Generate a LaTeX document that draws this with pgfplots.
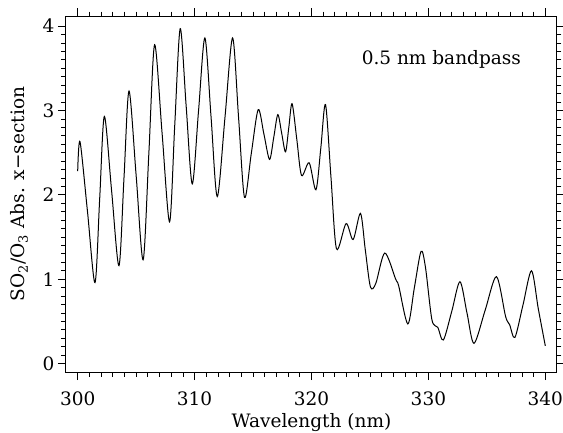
\documentclass[border=0pt]{standalone}
\usepackage{fontspec}
\setmainfont{DejaVu Serif}
\usepackage{pgfplots}
\pgfplotsset{compat=1.18}

\pgfplotstableread{
x y
300.00 2.28
300.20 2.63
300.84 1.80
301.48 0.96
301.88 1.95
302.28 2.93
302.90 2.05
303.53 1.16
303.96 2.20
304.39 3.23
305.00 2.23
305.60 1.23
306.09 2.50
306.58 3.78
307.22 2.73
307.86 1.68
308.30 2.82
308.77 3.97
309.28 3.05
309.80 2.13
310.34 3.00
310.88 3.86
311.41 2.92
311.94 1.98
312.60 2.92
313.25 3.86
313.76 2.92
314.27 1.97
314.85 2.49
315.44 3.01
315.93 2.72
316.41 2.42
316.77 2.68
317.12 2.95
317.45 2.73
317.78 2.51
318.06 2.80
318.34 3.08
318.75 2.65
319.15 2.23
319.80 2.38
320.38 2.06
320.80 2.56
321.20 3.07
321.67 2.20
322.14 1.36
322.96 1.66
323.56 1.47
324.19 1.78
324.60 1.35
325.04 0.91
325.50 0.95
326.27 1.31
327.20 1.00
327.46 0.92
328.24 0.47
328.80 0.90
329.37 1.33
329.75 1.14
330.30 0.52
330.80 0.43
331.28 0.28
332.00 0.62
332.70 0.97
333.30 0.60
333.90 0.24
334.85 0.63
335.82 1.03
336.60 0.56
336.95 0.46
337.40 0.31
338.10 0.70
338.82 1.10
339.40 0.65
340.00 0.21
}\xsection

\newcommand{\fs}{\fontsize{18.5}{22}\selectfont}

\begin{document}
\begin{tikzpicture}
\begin{axis}[
  at={(0,0)}, anchor=south west,
  scale only axis, width=491pt, height=356pt,
  xmin=299, xmax=341, ymin=-0.1, ymax=4.12,
  xtick={300,310,...,340}, ytick={0,1,2,3,4},
  minor x tick num=9, minor y tick num=9,
  tick pos=both, ticklabel pos=left, tick align=outside,
  major tick length=8pt, minor tick length=4.5pt,
  every tick/.style={black, line width=0.8pt},
  axis line style={line width=1pt},
  /pgf/number format/assume math mode=true,
  tick label style={font=\fs},
  xticklabel style={yshift=-8pt},
  label style={font=\fs},
  xlabel={Wavelength (nm)},
  ylabel={SO\textsubscript{2}/O\textsubscript{3} Abs. x−section},
  xlabel style={at={(axis description cs:0.5,-0.157)}, anchor=base},
  ylabel style={at={(axis description cs:-0.0957,0.5)}, anchor=center},
]
\addplot[black, line width=1pt, smooth, tension=0.5] table {\xsection};
\node[anchor=base west, font=\fs] at (axis cs:324.0,3.54) {0.5 nm bandpass};
\end{axis}
\pgfresetboundingbox
\path[use as bounding box] (-66pt,-60pt) rectangle (497pt,372pt);
\end{tikzpicture}
\end{document}
